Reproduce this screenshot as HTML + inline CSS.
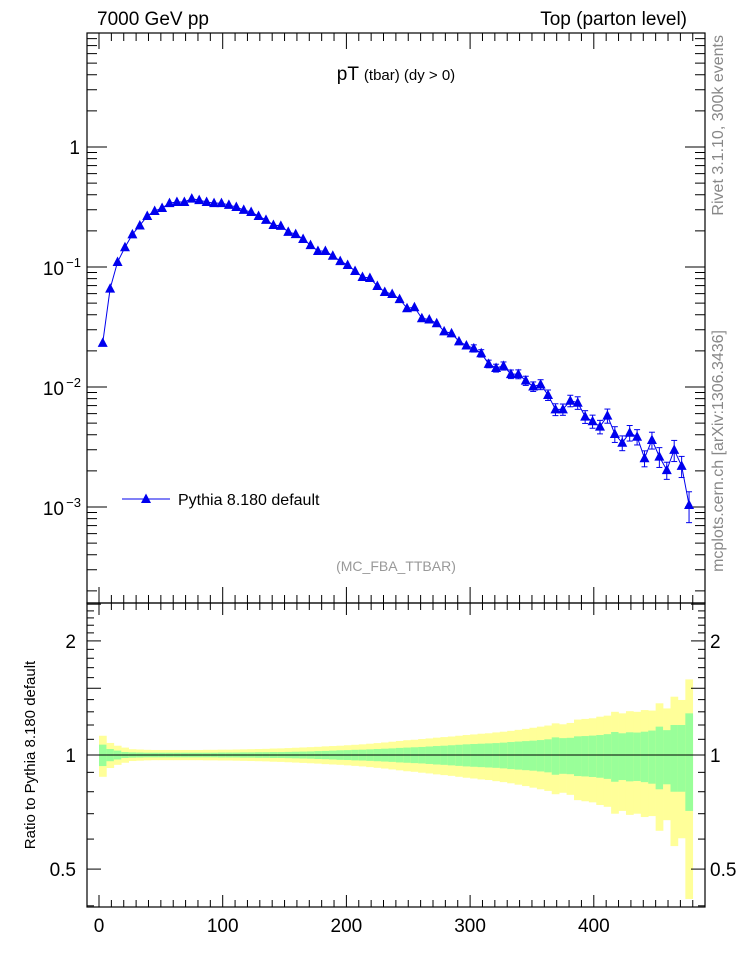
<!DOCTYPE html>
<html><head><meta charset="utf-8"><style>
body{margin:0;background:#fff}
svg{display:block;font-family:"Liberation Sans",sans-serif}
</style></head><body>
<svg id="c" width="746" height="972" viewBox="0 0 746 972"></svg>
<script>
const centers=[];for(let i=0;i<80;i++)centers.push(3+6*i);
const values=[0.0233,0.066,0.110,0.146,0.187,0.222,0.266,0.293,0.31,0.341,0.348,0.348,0.371,0.361,0.348,0.341,0.341,0.329,0.316,0.299,0.287,0.266,0.247,0.224,0.22,0.196,0.188,0.171,0.152,0.136,0.136,0.124,0.112,0.104,0.0926,0.0826,0.081,0.0695,0.0619,0.0596,0.054,0.0453,0.0462,0.0374,0.0365,0.034,0.0291,0.028,0.024,0.0222,0.021,0.0191,0.0156,0.0144,0.015,0.0128,0.0128,0.0113,0.0101,0.0105,0.00858,0.00651,0.00651,0.00769,0.0074,0.00566,0.00518,0.00467,0.00577,0.00406,0.00343,0.00416,0.00385,0.00255,0.00362,0.00263,0.00203,0.00299,0.0022,0.00104];
const yellowErr=[.124,.076,.058,.046,.036,.034,.032,.031,.031,.031,.031,.031,.031,.031,.032,.032,.033,.033,.034,.035,.036,.037,.038,.040,.041,.043,.045,.047,.049,.051,.054,.056,.058,.061,.064,.067,.071,.075,.079,.084,.089,.094,.097,.102,.106,.111,.115,.119,.124,.129,.133,.138,.141,.147,.152,.158,.165,.172,.180,.188,.196,.212,.205,.215,.240,.245,.250,.262,.270,.300,.288,.305,.300,.314,.310,.369,.327,.425,.397,.583];
const greenErr=[.065,.037,.027,.018,.016,.015,.014,.014,.014,.014,.014,.014,.014,.014,.014,.014,.015,.015,.015,.016,.016,.017,.017,.018,.018,.019,.020,.021,.022,.024,.025,.027,.029,.030,.032,.033,.035,.037,.039,.041,.044,.046,.048,.050,.053,.056,.058,.061,.064,.067,.069,.071,.073,.075,.078,.082,.085,.088,.091,.095,.100,.113,.108,.110,.120,.122,.125,.129,.135,.150,.141,.148,.146,.152,.160,.188,.163,.200,.200,.288];
const xTicks=[0,100,200,300,400];
const binW=6;

const NS="http://www.w3.org/2000/svg",svg=document.getElementById('c');
function mk(t,a,p){const e=document.createElementNS(NS,t);for(const k in a)e.setAttribute(k,a[k]);(p||svg).appendChild(e);return e;}
const L=87,R=705,T=33,MB=603,RB=907;
const X=v=>99+v*1.237;
const Y=v=>147-120*Math.log10(v);
const RY=v=>755-379*Math.log10(v);

const gB=mk('g',{});
centers.forEach((c,i)=>{
 const x0=X(c-binW/2),w=X(c+binW/2)-x0;
 let r=mk('rect',{x:x0,y:RY(1+yellowErr[i]),width:w+0.3,height:RY(Math.max(1-yellowErr[i],0.3))-RY(1+yellowErr[i]),fill:'#ffff99'},gB);
 
 r=mk('rect',{x:x0,y:RY(1+greenErr[i]),width:w+0.3,height:RY(1-greenErr[i])-RY(1+greenErr[i]),fill:'#99ff99'},gB);
 
});
let l=mk('line',{x1:X(0),x2:X(480),y1:RY(1),y2:RY(1),stroke:'#000','stroke-width':1});


let f=mk('rect',{x:L,y:T,width:R-L,height:MB-T,fill:'none',stroke:'#000','stroke-width':1.2});

f=mk('rect',{x:L,y:MB,width:R-L,height:RB-MB,fill:'none',stroke:'#000','stroke-width':1.2});


const tk=mk('g',{stroke:'#000','stroke-width':1});

for(let v=0;v<=480;v+=10){const x=X(v),M=v%100===0;const a=M?16:8,b=M?12:7;
 mk('line',{x1:x,x2:x,y1:T,y2:T+a},tk);mk('line',{x1:x,x2:x,y1:MB,y2:MB-a},tk);
 mk('line',{x1:x,x2:x,y1:MB,y2:MB+b},tk);mk('line',{x1:x,x2:x,y1:RB,y2:RB-b},tk);}
for(let d=-4;d<=0;d++)for(let m=1;m<10;m++){const v=m*Math.pow(10,d),y=Y(v);if(y<T||y>MB)continue;const a=m===1?20:10;
 mk('line',{x1:L,x2:L+a,y1:y,y2:y},tk);mk('line',{x1:R,x2:R-a,y1:y,y2:y},tk);}
for(let k=4;k<=25;k++){const v=k/10,y=RY(v);if(y<MB||y>RB)continue;const a=(k%5===0)?14:7;
 mk('line',{x1:L,x2:L+a,y1:y,y2:y},tk);mk('line',{x1:R,x2:R-a,y1:y,y2:y},tk);}

function txt(s,a,name){const t=mk('text',a);t.textContent=s;return t;}
xTicks.forEach(v=>txt(String(v),{x:X(v),y:932,'font-size':19,'text-anchor':'middle'},'x-tick-label'));
txt('1',{x:80,y:154,'font-size':19,'text-anchor':'end'},'y-tick-label');
[-1,-2,-3].forEach(d=>{const t=txt('10',{x:64,y:Y(Math.pow(10,d))+8,'font-size':19,'text-anchor':'end'},'y-tick-label');
 const s=mk('tspan',{x:81,dy:-8,'font-size':13,'text-anchor':'end'},t);s.textContent='−'+(-d);});
[[2,'2'],[1,'1'],[0.5,'0.5']].forEach(([v,s])=>{
 txt(s,{x:76,y:RY(v)+7,'font-size':19,'text-anchor':'end'},'ratio-y-tick-label');
 txt(s,{x:710,y:RY(v)+7,'font-size':19},'ratio-y-tick-label-right');});

const gD=mk('g',{});
let pts=centers.map((c,i)=>X(c)+','+Y(values[i])).join(' ');
let pl=mk('polyline',{points:pts,fill:'none',stroke:'#0000ee','stroke-width':1},gD);

centers.forEach((c,i)=>{const x=X(c),e=values[i]*greenErr[i];
 const y1=Y(values[i]+e),y2=Y(values[i]-e);
 if(y2-y1>7){const g=mk('g',{stroke:'#0000ee','stroke-width':1},gD);
  
  mk('line',{x1:x,x2:x,y1:y1,y2:y2},g);mk('line',{x1:x-3,x2:x+3,y1:y1,y2:y1},g);mk('line',{x1:x-3,x2:x+3,y1:y2,y2:y2},g);}
 const y=Y(values[i]);
 const p=mk('polygon',{points:`${x-5},${y+4} ${x+5},${y+4} ${x},${y-5.5}`,fill:'#0000ee'},gD);
 
});

const lg=mk('g',{});
mk('line',{x1:122,x2:170,y1:499,y2:499,stroke:'#0000ee','stroke-width':1},lg);
mk('polygon',{points:'141,503 151,503 146,493.5',fill:'#0000ee'},lg);
txt('Pythia 8.180 default',{x:178,y:505,'font-size':16},'legend-label');

txt('7000 GeV pp',{x:97,y:25,'font-size':19},'top-left-label');
txt('Top (parton level)',{x:687,y:25,'font-size':19,'text-anchor':'end'},'top-right-label');
const tt=txt('pT ',{x:396,y:80,'font-size':19,'text-anchor':'middle'},'plot-title');
const ts=mk('tspan',{'font-size':15},tt);ts.textContent='(tbar) (dy > 0)';
txt('(MC_FBA_TTBAR)',{x:396,y:571,'font-size':14,fill:'#999','text-anchor':'middle'},'analysis-id');
txt('Rivet 3.1.10,  300k events',{x:0,y:0,'font-size':16,fill:'#888','text-anchor':'end',transform:'translate(723,35) rotate(-90)'},'rivet-version-label');
txt('mcplots.cern.ch [arXiv:1306.3436]',{x:0,y:0,'font-size':16,fill:'#888','text-anchor':'end',transform:'translate(723,330) rotate(-90)'},'mcplots-label');
txt('Ratio to Pythia 8.180 default',{x:0,y:0,'font-size':15,'text-anchor':'middle',transform:'translate(35,755) rotate(-90)'},'ratio-y-axis-title');
</script>
</body></html>
